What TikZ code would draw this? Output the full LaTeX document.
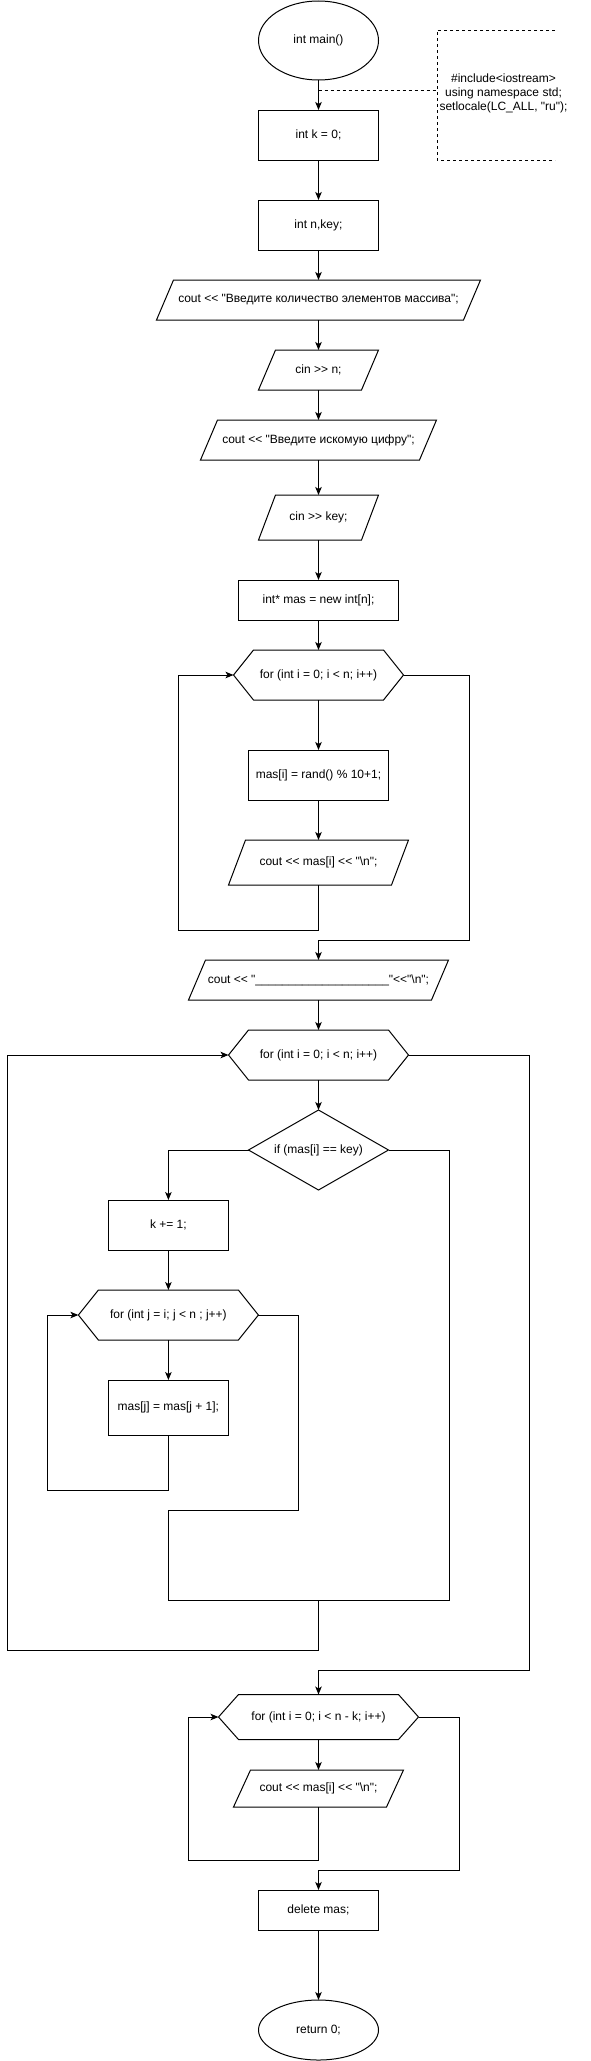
\documentclass[tikz,border=0pt]{standalone}
\usepackage{fontspec}
\setmainfont{Liberation Sans}[Ligatures=TeXOff]
\usetikzlibrary{shapes.geometric,calc,arrows.meta}
\newcommand\mypara[1]{\draw[shp] ($(#1.north west)+(17,0)$) -- (#1.north east) -- ($(#1.south east)+(-17,0)$) -- (#1.south west) -- cycle;}
\newcommand\myhex[1]{\draw[shp] (#1.west) -- ($(#1.north west)+(20,0)$) -- ($(#1.north east)+(-20,0)$) -- (#1.east) -- ($(#1.south east)+(-20,0)$) -- ($(#1.south west)+(20,0)$) -- cycle;}
\newcommand\mydia[1]{\draw[shp] (#1.north) -- (#1.east) -- (#1.south) -- (#1.west) -- cycle;}
\begin{document}
\begin{tikzpicture}[x=1pt,y=-1pt,
  every node/.style={font=\fontsize{12}{14}\selectfont, align=center, inner sep=0pt, outer sep=0pt, text=black},
  shp/.style={draw=black, line width=1pt, line join=miter},
  procbox/.style 2 args={shp, rectangle, minimum width=#1, minimum height=#2},
  term/.style 2 args={shp, ellipse, minimum width=#1, minimum height=#2},
  slot/.style 2 args={rectangle, minimum width=#1, minimum height=#2},
  conn/.style={line width=1pt},
  arr/.style={conn, -{Stealth[length=8pt,width=6.5pt,inset=2pt]}},
  dashline/.style={line width=1pt, dash pattern=on 3pt off 3pt}]
\useasboundingbox (0,0) rectangle (591,2061);
\def\ax{318.5}
% nodes
\node[term={120pt}{79pt}] (start) at (\ax,40.5) {int main()};
\node[procbox={120pt}{50pt}] (k0) at (\ax,135) {int k = 0;};
\node[slot={118pt}{130pt}] (notebox) at (496,95) {};
\node (note) at (503.5,93.5) {\#include<iostream>\\using namespace std;\\setlocale(LC\_ALL, "ru");};
\node[procbox={120pt}{50pt}] (nk) at (\ax,225) {int n,key;};
\node[slot={324pt}{40pt}] (p1) at (\ax,300) {cout << "Введите количество элементов массива";};
\node[slot={120pt}{40pt}] (p2) at (\ax,370) {cin >> n;};
\node[slot={236pt}{40pt}] (p3) at (\ax,440) {cout << "Введите искомую цифру";};
\node[slot={120pt}{45pt}] (p4) at (\ax,517.5) {cin >> key;};
\node[procbox={160pt}{40pt}] (mas) at (\ax,600) {int* mas = new int[n];};
\node[slot={170pt}{50pt}] (h1) at (\ax,675) {for (int i = 0; i < n; i++)};
\node[procbox={140pt}{50pt}] (rnd) at (\ax,775) {mas[i] = rand() \% 10+1;};
\node[slot={180pt}{45pt}] (p5) at (\ax,862.5) {cout << mas[i] << "\textbackslash n";};
\node[slot={260pt}{40pt}] (p6) at (\ax,980) {cout << "\_\_\_\_\_\_\_\_\_\_\_\_\_\_\_\_\_\_\_\_"<<"\textbackslash n";};
\node[slot={180pt}{50pt}] (h2) at (\ax,1055) {for (int i = 0; i < n; i++)};
\node[slot={140pt}{80pt}] (d1) at (\ax,1150) {if (mas[i] == key)};
\node[procbox={120pt}{50pt}] (inc) at (168.4,1225) {k += 1;};
\node[slot={180pt}{50pt}] (h3) at (168.4,1315) {for (int j = i; j < n ; j++)};
\node[procbox={120pt}{55pt}] (shift) at (168.4,1407.5) {mas[j] = mas[j + 1];};
\node[slot={200pt}{45pt}] (h4) at (\ax,1717) {for (int i = 0; i < n - k; i++)};
\node[slot={170pt}{37pt}] (p7) at (\ax,1788.5) {cout << mas[i] << "\textbackslash n";};
\node[procbox={120pt}{40pt}] (del) at (\ax,1910) {delete mas;};
\node[term={120pt}{60pt}] (stop) at (\ax,2030) {return 0;};
% shapes
\mypara{p1}\mypara{p2}\mypara{p3}\mypara{p4}\mypara{p5}\mypara{p6}\mypara{p7}
\myhex{h1}\myhex{h2}\myhex{h3}\myhex{h4}
\mydia{d1}
% note
\draw[dashline] (notebox.north east) -- (notebox.north west) -- (notebox.south west) -- (notebox.south east);
\coordinate (tap) at (\ax,90);
\draw[dashline] (tap) -- (tap -| notebox.west);
% connectors
\draw[arr] (start.south) -- (k0.north);
\draw[arr] (k0.south) -- (nk.north);
\draw[arr] (nk.south) -- (p1.north);
\draw[arr] (p1.south) -- (p2.north);
\draw[arr] (p2.south) -- (p3.north);
\draw[arr] (p3.south) -- (p4.north);
\draw[arr] (p4.south) -- (mas.north);
\draw[arr] (mas.south) -- (h1.north);
\draw[arr] (h1.south) -- (rnd.north);
\draw[arr] (rnd.south) -- (p5.north);
\draw[arr] (p5.south) |- (178.4,930) |- (h1.west);
\draw[arr] (h1.east) -| (469.7,940) -| (p6.north);
\draw[arr] (p6.south) -- (h2.north);
\draw[arr] (h2.south) -- (d1.north);
\draw[arr] (d1.west) -| (inc.north);
\draw[arr] (inc.south) -- (h3.north);
\draw[arr] (h3.south) -- (shift.north);
\draw[arr] (shift.south) |- (47.7,1490) |- (h3.west);
\draw[arr] (h3.east) -| (298.9,1510) -| (168.4,1600) -| (\ax,1650) -| (7.6,1055) -- (h2.west);
\draw[conn] (d1.east) -| (449.6,1600) -- (\ax,1600);
\draw[arr] (h2.east) -| (529.5,1670) -| (h4.north);
\draw[arr] (h4.south) -- (p7.north);
\draw[arr] (p7.south) |- (188.3,1860) |- (h4.west);
\draw[arr] (h4.east) -| (459.5,1870) -| (del.north);
\draw[arr] (del.south) -- (stop.north);
\end{tikzpicture}
\end{document}
